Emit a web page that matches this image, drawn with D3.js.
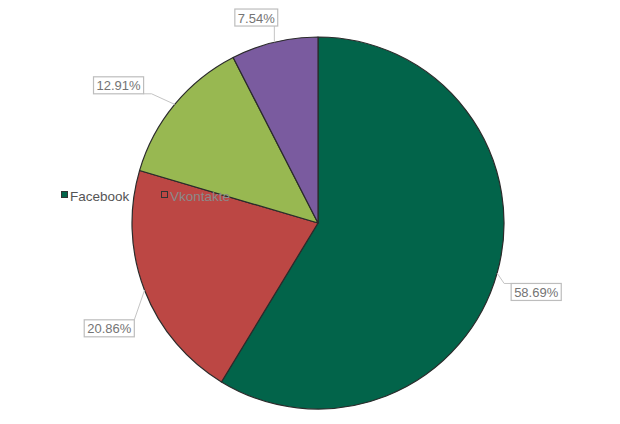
<!DOCTYPE html>
<html>
<head>
<meta charset="utf-8">
<script src="https://cdn.jsdelivr.net/npm/d3@7"></script>
<style>
  body { margin: 0; background: #fff; }
  svg { display: block; }
</style>
</head>
<body>
<div id="chart"></div>
<script>
var categories = ["Facebook", "Vkontakte", "Other 1", "Other 2"];
var values = [58.69, 20.86, 12.91, 7.54];
var colors = ["#02644a", "#bc4744", "#98b851", "#7a5b9f"];
// the reference legend only shows the first two entries
var legendCount = 2;

var width = 620;
var height = 424;
var cx = 318, cy = 223, radius = 186;
var labelFont = "'Liberation Sans', Arial, sans-serif";

var svg = d3.select("#chart")
    .append("svg")
    .attr("width", width)
    .attr("height", height);

var pie = d3.pie().sort(null).value(d => d.value);
var arc = d3.arc().innerRadius(0).outerRadius(radius);

var data = categories.map((c, i) => ({ name: c, value: values[i], color: colors[i] }));
var arcs = pie(data);

var g = svg.append("g").attr("transform", `translate(${cx},${cy})`);

g.selectAll("path")
    .data(arcs)
    .enter()
    .append("path")
    .attr("d", arc)
    .attr("fill", d => d.data.color)
    .attr("stroke", "#2b2b2b")
    .attr("stroke-width", 1.2)
    .attr("stroke-linejoin", "round");

// labels: boxed percentages outside the arc, with leader lines.
// The labels fan out from a point a little below the pie centre.
var fmt = d3.format(".2f");
var boxH = 17, pad = 3;
var origin = [0, 16];
var rot = -2 * Math.PI / 180;

var labels = g.selectAll("g.label")
    .data(arcs)
    .enter()
    .append("g")
    .attr("class", "label");

labels.each(function (d) {
    var sel = d3.select(this);
    var a = (d.startAngle + d.endAngle) / 2;
    var la = a + rot;
    var ux = Math.sin(la), uy = -Math.cos(la);

    var txt = sel.append("text")
        .attr("font-family", labelFont)
        .attr("font-size", 13)
        .attr("fill", "#747474")
        .attr("text-anchor", "middle")
        .attr("dominant-baseline", "central")
        .text(fmt(d.data.value) + "%");
    var w = txt.node().getComputedTextLength() + pad * 2;

    // distance from the label origin to the pie edge along the ray
    var ou = origin[0] * ux + origin[1] * uy;
    var oo = origin[0] * origin[0] + origin[1] * origin[1];
    var edge = -ou + Math.sqrt(radius * radius - oo + ou * ou);
    var gap = Math.max(10, 32 * Math.abs(Math.sin(2 * a)));
    var ext = Math.abs(ux) * w / 2 + Math.abs(uy) * boxH / 2;
    var dist = edge + gap + ext;
    var bx = origin[0] + ux * dist, by = origin[1] + uy * dist;
    var x0 = bx - w / 2, x1 = bx + w / 2, y0 = by - boxH / 2, y1 = by + boxH / 2;

    // leader: arc point -> (elbow) -> nearest point on box
    var p1 = [Math.sin(a) * radius, -Math.cos(a) * radius];
    var p3 = [Math.max(x0, Math.min(x1, p1[0])), Math.max(y0, Math.min(y1, p1[1]))];
    var pts = [p1];
    var dx = p3[0] - p1[0], dy = p3[1] - p1[1];
    if (Math.abs(dx) > Math.abs(dy)) {
        var el = Math.min(8, Math.abs(dx) / 2);
        pts.push([p3[0] - Math.sign(dx) * el, p3[1]]);
    }
    pts.push(p3);

    sel.insert("polyline", "text")
        .attr("points", pts.map(p => p.join(",")).join(" "))
        .attr("fill", "none")
        .attr("stroke", "#c4c4c4")
        .attr("stroke-width", 1);

    sel.insert("rect", "text")
        .attr("x", x0)
        .attr("y", y0)
        .attr("width", w)
        .attr("height", boxH)
        .attr("fill", "#fff")
        .attr("stroke", "#bdbdbd")
        .attr("stroke-width", 1.2);

    txt.attr("x", bx).attr("y", by + 0.5);
});

// legend, drawn on top of the pie as in the reference
var legend = svg.append("g").attr("transform", "translate(61,191)");

var item = legend.selectAll("g")
    .data(data.slice(0, legendCount))
    .enter()
    .append("g")
    .attr("transform", (d, i) => `translate(${i * 100},0)`);

item.append("rect")
    .attr("width", 6)
    .attr("height", 6)
    .attr("x", 0.5)
    .attr("y", 0.5)
    .attr("fill", d => d.color)
    .attr("stroke", "#333")
    .attr("stroke-width", 1);

item.append("text")
    .attr("x", 9)
    .attr("y", 9.5)
    .attr("font-family", labelFont)
    .attr("font-size", 13.5)
    .attr("fill", (d, i) => i === 0 ? "#555" : "#8a8a8a")
    .text(d => d.name);
</script>
</body>
</html>
